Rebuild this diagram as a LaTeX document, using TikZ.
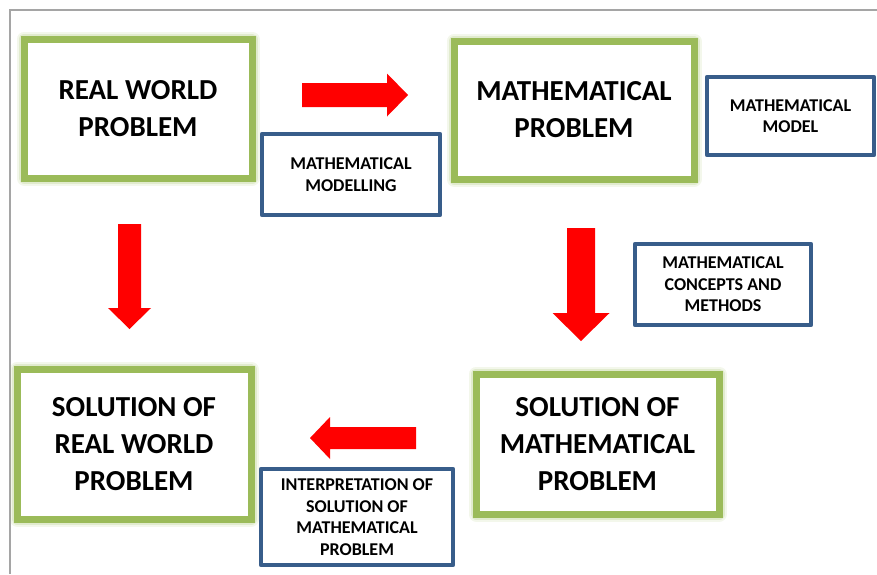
\documentclass[tikz,border=0pt]{standalone}
\usepackage{fontspec}
\setmainfont{Carlito}
\usetikzlibrary{positioning}

\definecolor{boxgreen}{RGB}{155,187,89}
\definecolor{boxblue}{RGB}{56,93,138}
\definecolor{arrowred}{RGB}{255,0,0}
\definecolor{framegray}{RGB}{165,165,165}

% block arrow: start, rotation, shaft length, half shaft, head length, half head
\newcommand{\blockarrow}[6]{%
    \fill[arrowred, shift={#1}, rotate=#2]
        (0,-#4) -- (#3,-#4) -- (#3,-#6) -- ({#3+#5},0) -- (#3,#6) -- (#3,#4) -- (0,#4) -- cycle;}

\begin{document}
\begin{tikzpicture}[
    x=1pt, y=-1pt,
    stage/.style={draw=boxgreen, line width=7pt, fill=white, align=center,
        inner sep=0pt, text=black,
        font=\fontsize{29}{37}\selectfont\bfseries,
        preaction={draw=boxgreen, line width=15pt, line join=round, opacity=.12},
        preaction={draw=boxgreen, line width=11pt, line join=round, opacity=.2}},
    step label/.style={draw=boxblue, line width=4.5pt, fill=white, align=center,
        inner sep=0pt, text=black, line join=round,
        font=\fontsize{18}{21.5}\selectfont\bfseries}
]
    \useasboundingbox (0,0) rectangle (877,574);

    % ==========================
    % FRAME
    % ==========================
    \draw[framegray, line width=1.3pt] (10,574) -- (10,10) -- (877,10);

    % ==========================
    % GREEN BOXES: the four stages
    % ==========================
    \node[stage, minimum width=228pt, minimum height=139pt] (realprob) at (138,108.5)
        {REAL WORLD\\PROBLEM};
    \node[stage, minimum width=240pt, minimum height=138pt] (mathprob) at (574,110)
        {MATHEMATICAL\\PROBLEM};
    \node[stage, minimum width=243pt, minimum height=140pt] (mathsol) at (597.5,444)
        {SOLUTION OF\\MATHEMATICAL\\PROBLEM};
    \node[stage, minimum width=234pt, minimum height=150pt] (realsol) at (134,444)
        {SOLUTION OF\\REAL WORLD\\PROBLEM};

    % ==========================
    % BLUE BOXES: the labels of the steps
    % ==========================
    \node[step label, minimum width=178pt, minimum height=81pt] (modelling) at (351,174.5)
        {MATHEMATICAL\\MODELLING};
    \node[step label, minimum width=167pt, minimum height=78pt] (model) at (790.5,116)
        {MATHEMATICAL\\MODEL};
    \node[step label, minimum width=176pt, minimum height=81pt] (concepts) at (723,284.5)
        {MATHEMATICAL\\CONCEPTS AND\\METHODS};
    \node[step label, minimum width=192pt, minimum height=96pt] (interpret) at (357,517)
        {INTERPRETATION OF\\SOLUTION OF\\MATHEMATICAL\\PROBLEM};

    % ==========================
    % RED BLOCK ARROWS
    % ==========================
    \blockarrow{(302,95)}{0}{85}{12}{21}{21.5}
    \blockarrow{(581,228)}{-90}{85}{14}{28}{28.5}
    \blockarrow{(416,438)}{180}{86}{11}{20}{21}
    \blockarrow{(129.5,224)}{-90}{84}{11.5}{21}{21.5}

\end{tikzpicture}
\end{document}
